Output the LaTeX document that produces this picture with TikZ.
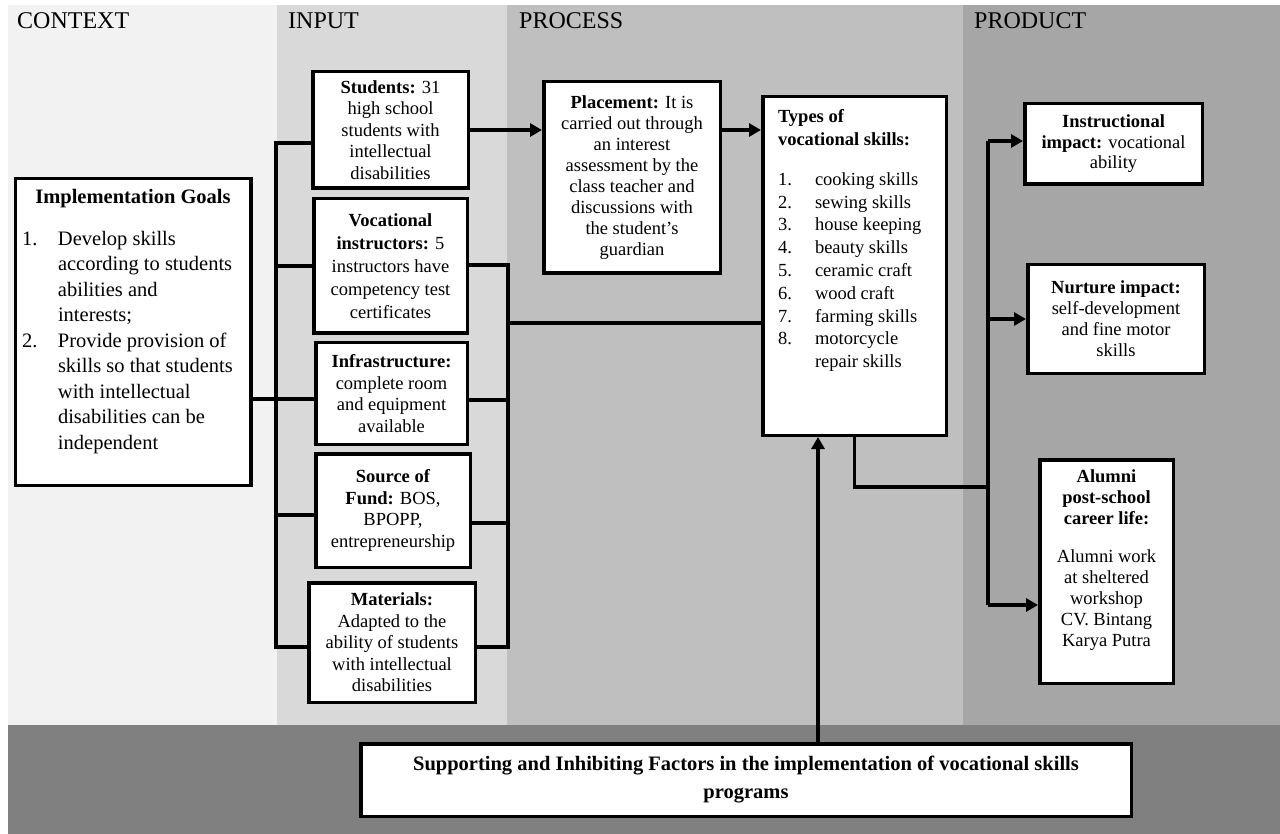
\documentclass[tikz,border=0pt]{standalone}
\usepackage{fontspec}
\setmainfont{Liberation Serif}
\usetikzlibrary{arrows.meta,positioning,calc}
\definecolor{contextgray}{RGB}{242,242,242}
\definecolor{inputgray}{RGB}{217,217,217}
\definecolor{processgray}{RGB}{191,191,191}
\definecolor{productgray}{RGB}{166,166,166}
\definecolor{factorgray}{RGB}{128,128,128}
\tikzset{
  box/.style={draw, line width=3.5pt, fill=white, align=center, inner sep=0pt, font=\fontsize{18.5}{21.5}\selectfont},
  link/.style={line width=3.5pt},
  flow/.style={line width=3.5pt, -{Triangle[length=12pt,width=13pt]}},
  colhead/.style={anchor=west, inner sep=0pt, font=\fontsize{24}{28}\selectfont}
}

\begin{document}
\begin{tikzpicture}[x=1pt,y=-1pt]
				\useasboundingbox (0,0) rectangle (1280,834);
				% Column backgrounds
				\fill[white] (0,0) rectangle (1280,834);
				\fill[contextgray] (8,5) rectangle (277,725);
				\fill[inputgray] (277,5) rectangle (507,725);
				\fill[processgray] (507,5) rectangle (963,725);
				\fill[productgray] (963,5) rectangle (1280,725);
				\fill[factorgray] (8,725) rectangle (1280,834);
				\node[colhead] (hcontext) at (17,21) {CONTEXT};
				\node[colhead] (hinput) at (288,21) {INPUT};
				\node[colhead] (hprocess) at (519,21) {PROCESS};
				\node[colhead] (hproduct) at (974,21) {PRODUCT};
				
				% Context
				\node[box, minimum width=235.5, minimum height=306.5, font=\fontsize{20.5}{25.5}\selectfont] (goals) at (133,332) {\parbox[c][286pt][t]{222pt}{\centering\textbf{Implementation Goals}\par\vspace{16.5pt}\raggedright
				\makebox[36pt][l]{1.}Develop skills\\
				\hspace*{36pt}according to students\\
				\hspace*{36pt}abilities and\\
				\hspace*{36pt}interests;\\
				\makebox[36pt][l]{2.}Provide provision of\\
				\hspace*{36pt}skills so that students\\
				\hspace*{36pt}with intellectual\\
				\hspace*{36pt}disabilities can be\\
				\hspace*{36pt}independent}};
				
				% Input
				\node[box, minimum width=155.5, minimum height=116.5] (students) at (390.5,130) {\textbf{Students:} 31\\high school\\students with\\intellectual\\disabilities};
				\node[box, minimum width=153.5, minimum height=134.5, font=\fontsize{18.5}{23}\selectfont] (vocational) at (390.5,266) {\textbf{Vocational}\\\textbf{instructors:} 5\\instructors have\\competency test\\certificates};
				\node[box, minimum width=151.5, minimum height=101.5] (infra) at (391.5,393.5) {\textbf{Infrastructure:}\\complete room\\and equipment\\available};
				\node[box, minimum width=154.5, minimum height=113.5] (source) at (393,510.5) {\textbf{Source of}\\\textbf{Fund:} BOS,\\BPOPP,\\entrepreneurship};
				\node[box, minimum width=166.5, minimum height=119.5] (materials) at (392,642.5) {\textbf{Materials:}\\Adapted to the\\ability of students\\with intellectual\\disabilities};
				
				% Process
				\node[box, minimum width=176.5, minimum height=191.5, font=\fontsize{18.5}{21}\selectfont] (placement) at (632,177.5) {\textbf{Placement:} It is\\carried out through\\an interest\\assessment by the\\class teacher and\\discussions with\\the student’s\\guardian};
				\node[box, minimum width=183.5, minimum height=338.5, font=\fontsize{18.5}{22.8}\selectfont] (types) at (854.5,266) {\parbox[c][313pt][t]{153pt}{\raggedright\textbf{Types of}\\\textbf{vocational skills:}\par\vspace{17.2pt}
				\makebox[37pt][l]{1.}cooking skills\\
				\makebox[37pt][l]{2.}sewing skills\\
				\makebox[37pt][l]{3.}house keeping\\
				\makebox[37pt][l]{4.}beauty skills\\
				\makebox[37pt][l]{5.}ceramic craft\\
				\makebox[37pt][l]{6.}wood craft\\
				\makebox[37pt][l]{7.}farming skills\\
				\makebox[37pt][l]{8.}motorcycle\\
				\hspace*{37pt}repair skills}};
				
				% Product
				\node[box, minimum width=177.5, minimum height=80.5, font=\fontsize{18.5}{20.5}\selectfont] (instr) at (1113.5,144) {\textbf{Instructional}\\\textbf{impact:} vocational\\ability};
				\node[box, minimum width=176.5, minimum height=108.5, font=\fontsize{18.5}{21}\selectfont] (nurture) at (1116,319) {\textbf{Nurture impact:}\\self-development\\and fine motor\\skills};
				\node[box, minimum width=133.5, minimum height=223.5, font=\fontsize{18.5}{21}\selectfont] (alumni) at (1106.5,571.5) {\parbox[c][203pt][t]{125pt}{\centering\textbf{Alumni}\\\textbf{post-school}\\\textbf{career life:}\par\vspace{17pt}Alumni work\\at sheltered\\workshop\\CV. Bintang\\Karya Putra}};
				
				% Supporting and inhibiting factors
				\node[box, minimum width=770.5, minimum height=72.5, font=\bfseries\fontsize{20.5}{28}\selectfont] (factors) at (746,780) {Supporting and Inhibiting Factors in the implementation of vocational skills\\programs};
				
				% Connections: context to input
				\coordinate (ltop) at (276,143);
				\coordinate (lbot) at (276,647);
				\coordinate (goaltick) at ([yshift=-5.5pt]infra.west);
				\coordinate (sourcein) at ([yshift=-4.5pt]source.west);
				\draw[link] (ltop -| students.west) -- (ltop) -- (lbot) -- (lbot -| materials.west);
				\draw[link] (ltop |- vocational.west) -- (vocational.west);
				\draw[link] (goaltick -| goals.east) -- (goaltick);
				\draw[link] (sourcein -| ltop) -- (sourcein);
				
				% Connections: input to process
				\coordinate (rtop) at (508,265);
				\coordinate (rbot) at (508,647);
				\coordinate (rmid) at (508,323);
				\coordinate (infraout) at ([yshift=-6.5pt]infra.east);
				\coordinate (sourceout) at ([yshift=-12.5pt]source.east);
				\draw[link] (rtop -| vocational.east) -- (rtop) -- (rbot) -- (rbot -| materials.east);
				\draw[link] (infraout) -- (infraout -| rtop);
				\draw[link] (sourceout) -- (sourceout -| rtop);
				\draw[link] (rmid) -- (rmid -| types.west);
				\draw[flow] (students.east) -- (students.east -| placement.west);
				\draw[flow] (placement.east |- students.east) -- (students.east -| types.west);
				
				% Connections: process to product
				\coordinate (ptop) at (988,141);
				\coordinate (pjoin) at (988,487);
				\coordinate (pbot) at (988,605);
				\draw[link] (ptop) -- (pbot);
				\draw[link] (types.south) |- (pjoin);
				\draw[flow] (ptop) -- (ptop -| instr.west);
				\draw[flow] (ptop |- nurture.west) -- (nurture.west);
				\draw[flow] (pbot) -- (pbot -| alumni.west);
				
				% Factors feed the skills
				\coordinate (fup) at ([xshift=72pt]factors.north);
				\draw[flow] (fup) -- (fup |- types.south);
			\end{tikzpicture}
\end{document}
